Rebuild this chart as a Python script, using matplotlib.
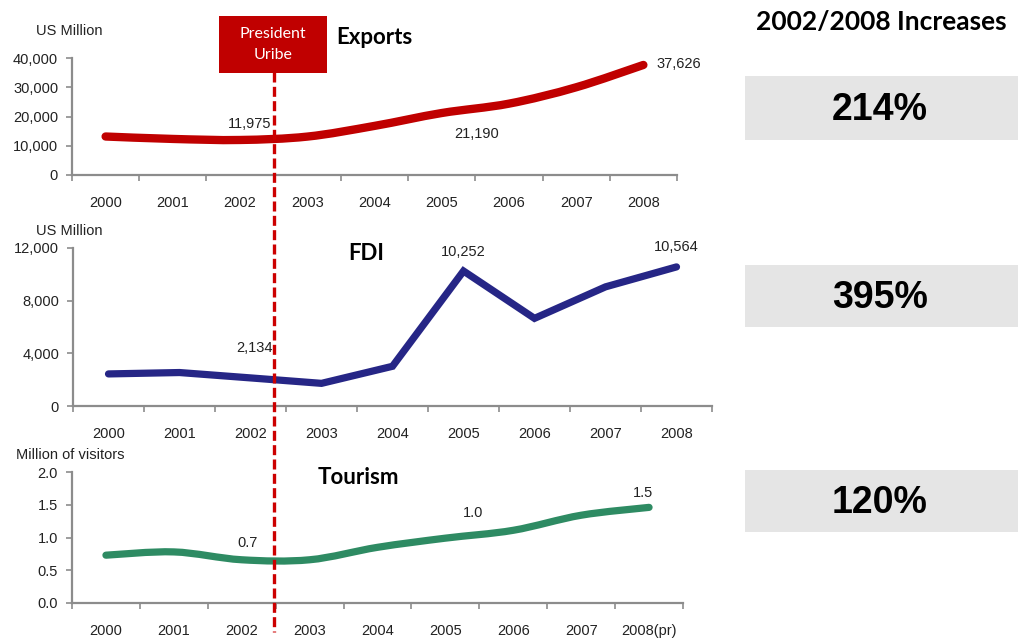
import matplotlib
matplotlib.use("Agg")
import matplotlib.pyplot as plt
from matplotlib.path import Path
from matplotlib.patches import PathPatch, Rectangle
from matplotlib.lines import Line2D
import numpy as np

years = ["2000", "2001", "2002", "2003", "2004", "2005", "2006", "2007", "2008"]
tourism_years = years[:-1] + ["2008(pr)"]

exports = [13158, 12330, 11975, 13129, 16788, 21190, 24391, 29991, 37626]
fdi = [2436, 2542, 2134, 1720, 3016, 10252, 6656, 9049, 10564]
tourism = [0.73, 0.78, 0.66, 0.66, 0.85, 0.99, 1.11, 1.34, 1.46]

increases = ["214%", "395%", "120%"]

W, H = 1018, 639
RED = "#C00000"
BLUE = "#262686"
GREEN = "#2E8B63"
AXIS_GREY = "#8C8C8C"
TXT = "#222222"
FS = 10.5

plt.rcParams.update({
    "font.family": ["Liberation Sans", "DejaVu Sans"],
    "font.size": FS,
    "text.color": TXT,
})


def fx(x):
    return x / W


def fy(y):
    return 1 - y / H


def smooth_path(xs, ys):
    # Catmull-Rom through the points, written as cubic Bezier segments
    pts = np.column_stack([xs, ys]).astype(float)
    n = len(pts)
    verts = [pts[0]]
    codes = [Path.MOVETO]
    for i in range(n - 1):
        p0 = pts[i - 1] if i > 0 else pts[i]
        p1, p2 = pts[i], pts[i + 1]
        p3 = pts[i + 2] if i + 2 < n else pts[i + 1]
        c1 = p1 + (p2 - p0) / 6
        c2 = p2 - (p3 - p1) / 6
        verts += [c1, c2, p2]
        codes += [Path.CURVE4] * 3
    return Path(verts, codes)


def style_axis(ax, ylim, yticks, yfmt, labels, ylabel, ylabel_xy):
    ax.set_xlim(-0.5, 8.5)
    ax.set_ylim(*ylim)
    for s in ("top", "right"):
        ax.spines[s].set_visible(False)
    for s in ("left", "bottom"):
        ax.spines[s].set_color(AXIS_GREY)
        ax.spines[s].set_linewidth(1.6)
    ax.set_yticks(yticks)
    ax.set_yticklabels([yfmt(v) for v in yticks])
    ax.set_xticks(range(len(labels)))
    ax.set_xticklabels(labels)
    ax.set_xticks(np.arange(-0.5, 9.0, 1.0), minor=True)
    ax.tick_params(axis="x", which="major", length=0, pad=15, labelsize=FS,
                   labelcolor=TXT)
    ax.tick_params(axis="x", which="minor", length=4, width=1.2,
                   color=AXIS_GREY, direction="out")
    ax.tick_params(axis="y", length=4, width=1.2, color=AXIS_GREY,
                   labelsize=FS, labelcolor=TXT, pad=6)
    fig.text(fx(ylabel_xy[0]), fy(ylabel_xy[1]), ylabel, fontsize=FS,
             color=TXT, ha="left", va="center")


def panel_title(xp, yp, text):
    fig.text(fx(xp), fy(yp), text, fontsize=16, fontweight="bold",
             family=["Lato", "DejaVu Sans"], color="black", va="center")


fig = plt.figure(figsize=(W / 100, H / 100), dpi=100)
fig.patch.set_facecolor("white")

x = np.arange(len(years))

# Exports
ax1 = fig.add_axes([fx(72), fy(175), (677 - 72) / W, (175 - 58) / H])
style_axis(ax1, (0, 40000), [0, 10000, 20000, 30000, 40000],
           lambda v: f"{v:,.0f}", years, "US Million", (36, 31))
ax1.add_patch(PathPatch(smooth_path(x, exports), fill=False, edgecolor=RED,
                        linewidth=6, capstyle="round", joinstyle="round"))
for i, dx, dy, ha in [(2, 10, 16, "center"), (5, 35, -21, "center"),
                      (8, 13, 1, "left")]:
    ax1.annotate(f"{exports[i]:,}", (x[i], exports[i]), xytext=(dx, dy),
                 textcoords="offset pixels", ha=ha, va="center", fontsize=FS)
panel_title(336, 38, "Exports")

# FDI
ax2 = fig.add_axes([fx(73), fy(406), (712 - 73) / W, (406 - 248) / H])
style_axis(ax2, (0, 12000), [0, 4000, 8000, 12000],
           lambda v: f"{v:,.0f}", years, "US Million", (36, 231))
ax2.plot(x, fdi, color=BLUE, linewidth=5.2, solid_capstyle="round",
         solid_joinstyle="miter")
for i, dx, dy in [(2, 4, 30), (5, 0, 19), (8, 0, 20)]:
    ax2.annotate(f"{fdi[i]:,}", (x[i], fdi[i]), xytext=(dx, dy),
                 textcoords="offset pixels", ha="center", va="center",
                 fontsize=FS)
panel_title(348, 254, "FDI")

# Tourism
ax3 = fig.add_axes([fx(72), fy(603), (683 - 72) / W, (603 - 472) / H])
style_axis(ax3, (0, 2.0), [0.0, 0.5, 1.0, 1.5, 2.0],
           lambda v: f"{v:.1f}", tourism_years, "Million of visitors", (16, 455))
ax3.add_patch(PathPatch(smooth_path(x, tourism), fill=False, edgecolor=GREEN,
                        linewidth=5.2, capstyle="round", joinstyle="round"))
for i, dx, dy in [(2, 6, 17), (5, 28, 25), (8, -6, 14)]:
    ax3.annotate(f"{tourism[i]:.1f}", (x[i], tourism[i]), xytext=(dx, dy),
                 textcoords="offset pixels", ha="center", va="center",
                 fontsize=FS)
panel_title(318, 477, "Tourism")

# President Uribe marker, between 2002 and 2003
xline = fig.transFigure.inverted().transform(ax1.transData.transform((2.5, 0)))[0]
fig.add_artist(Line2D([xline, xline], [fy(72), fy(632)],
                      transform=fig.transFigure, color="#CC0000",
                      linewidth=2.4, dashes=(3.0, 1.3), zorder=5))
fig.add_artist(Rectangle((fx(219), fy(73)), (327 - 219) / W, (73 - 16) / H,
                         transform=fig.transFigure, facecolor=RED,
                         edgecolor="none", zorder=6))
fig.text(fx(273), fy(44.5), "President\nUribe", color="white", fontsize=11.5,
         family=["Lato", "DejaVu Sans"], ha="center", va="center",
         linespacing=1.65, zorder=7)

# 2002/2008 increase boxes
fig.text(fx(881), fy(22), "2002/2008 Increases", fontsize=19,
         fontweight="bold", family=["Lato", "DejaVu Sans"], color="black",
         ha="center", va="center")
for label, (top, bottom) in zip(increases, [(76, 140), (265, 327), (470, 532)]):
    fig.add_artist(Rectangle((fx(745), fy(bottom)), (W - 745) / W,
                             (bottom - top) / H, transform=fig.transFigure,
                             facecolor="#E5E5E5", edgecolor="none"))
    fig.text(fx(880), fy((top + bottom) / 2 + 2), label, fontsize=27,
             fontweight="bold", color="black",
             family=["Liberation Sans Narrow", "Liberation Sans"],
             ha="center", va="center")

fig.savefig("out.png", dpi=100)
